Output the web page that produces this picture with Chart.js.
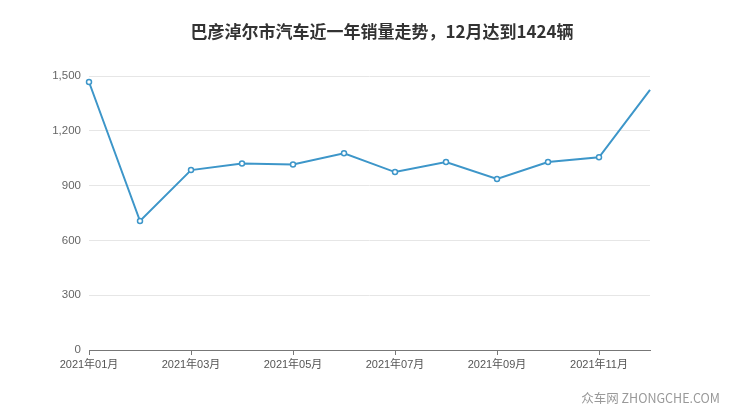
<!DOCTYPE html>
<html>
<head>
<meta charset="utf-8">
<script src="https://cdn.jsdelivr.net/npm/chart.js@4/dist/chart.umd.min.js"></script>
<style>
  html, body { margin: 0; padding: 0; background: #fff; }
  #wrap { width: 740px; height: 417px; position: relative; }
</style>
</head>
<body>
<div id="wrap"><canvas id="line-chart" width="740" height="417"></canvas></div>
<script>
var months = ["2021年01月", "2021年02月", "2021年03月", "2021年04月", "2021年05月", "2021年06月",
              "2021年07月", "2021年08月", "2021年09月", "2021年10月", "2021年11月", "2021年12月"];
var sales = [1467, 706, 985, 1021, 1015, 1077, 974, 1029, 936, 1029, 1055, 1424];
var yTicks = [0, 300, 600, 900, 1200, 1500];

var titleText = "巴彦淖尔市汽车近一年销量走势，12月达到1424辆";
var fontFamily = "'Liberation Sans', 'Noto Sans CJK SC', sans-serif";

// title and watermark drawn straight onto the canvas
var textPlugin = {
    id: 'textPlugin',
    afterDraw: function(chart){
        var ctx = chart.ctx;
        ctx.save();
        ctx.fillStyle = '#333';
        ctx.font = "bold 17px 'Noto Sans CJK SC', sans-serif";
        ctx.textAlign = 'center';
        ctx.textBaseline = 'middle';
        ctx.fillText(titleText, 382, 32);
        ctx.fillStyle = '#999';
        ctx.font = "12.5px 'Noto Sans CJK SC', sans-serif";
        ctx.textAlign = 'right';
        ctx.fillText("众车网 ZHONGCHE.COM", 720, 398);
        ctx.restore();
    }
};

function createLineChart(){
    new Chart(document.getElementById("line-chart"), {
        type: 'line',
        data: {
            labels: months,
            datasets: [{
                data: sales,
                borderColor: '#3d96c9',
                borderWidth: 2,
                backgroundColor: '#fff',
                pointBackgroundColor: '#fff',
                pointBorderColor: '#3d96c9',
                pointBorderWidth: 1.5,
                pointRadius: sales.map(function(v, i){ return i === sales.length - 1 ? 0 : 2.5; }),
                tension: 0,
                fill: false
            }]
        },
        options: {
            responsive: false,
            animation: false,
            layout: { padding: { top: 76, right: 90, left: 0, bottom: 0 } },
            plugins: {
                legend: { display: false },
                title: { display: false },
                tooltip: { enabled: false }
            },
            scales: {
                x: {
                    offset: false,
                    afterFit: function(scale){ scale.height = 67; },
                    border: { display: true, color: '#777', width: 1 },
                    grid: {
                        drawOnChartArea: false,
                        drawTicks: true,
                        tickLength: 5,
                        color: function(ctx){ return ctx.index % 2 === 0 ? '#777' : 'rgba(0,0,0,0)'; }
                    },
                    ticks: {
                        autoSkip: false,
                        maxRotation: 0,
                        padding: 3,
                        color: '#555',
                        font: { size: 11, family: fontFamily },
                        callback: function(val, i){ return i % 2 === 0 ? months[i] : ''; }
                    }
                },
                y: {
                    min: 0,
                    max: 1500,
                    afterFit: function(scale){ scale.width = 89; },
                    afterBuildTicks: function(scale){
                        scale.ticks = yTicks.map(function(v){ return { value: v }; });
                    },
                    border: { display: false },
                    grid: { color: '#e6e6e6', drawTicks: false },
                    ticks: {
                        padding: 8,
                        color: '#666',
                        font: { size: 11.5, family: fontFamily },
                        callback: function(v){ return v.toLocaleString('en-US'); }
                    }
                }
            }
        },
        plugins: [textPlugin]
    });
}

createLineChart();
</script>
</body>
</html>
